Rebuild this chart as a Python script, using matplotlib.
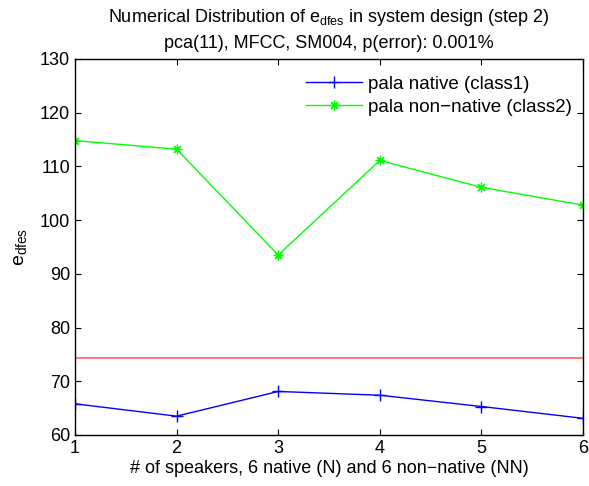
import numpy as np
import matplotlib
matplotlib.use("Agg")
import matplotlib.pyplot as plt

# --- data ---
speakers = [1, 2, 3, 4, 5, 6]
native = [65.8, 63.5, 68.1, 67.4, 65.3, 63.1]
non_native = [114.8, 113.2, 93.5, 111.1, 106.1, 102.8]
threshold = 74.4

plt.rcParams['font.family'] = ['Liberation Sans', 'DejaVu Sans']
plt.rcParams['mathtext.fontset'] = 'custom'
plt.rcParams['mathtext.rm'] = 'Liberation Sans'
plt.rcParams['mathtext.it'] = 'Liberation Sans'
plt.rcParams['font.size'] = 13

fig = plt.figure(figsize=(5.89, 4.86), dpi=100)
ax = fig.add_axes([0.1273, 0.105, 0.8625, 0.7737])

ax.plot(speakers, native, color='blue', marker='+', markersize=8, lw=1,
        label='pala native (class1)')
ax.plot(speakers, non_native, color='#00ff00', marker=(8, 2, 0), markersize=7,
        markeredgewidth=0.9, lw=1, label='pala non\u2212native (class2)')
ax.axhline(threshold, color='#ff6666', lw=1.2)

ax.set_xlim(1, 6)
ax.set_ylim(60, 130)
ax.set_xticks(speakers)
ax.set_yticks(np.arange(60, 131, 10))
ax.tick_params(direction='in', top=True, right=True, length=4, width=0.8,
               labelsize=13)
for s in ax.spines.values():
    s.set_linewidth(1)

ax.set_xlabel('# of speakers, 6 native (N) and 6 non\u2212native (NN)', labelpad=2)
ax.set_ylabel(r'e$_{\mathrm{dfes}}$', labelpad=8, fontsize=14)
ax.set_title('Numerical Distribution of e$_{\\mathrm{dfes}}$ in system design (step 2)\n'
             'pca(11), MFCC, SM004, p(error): 0.001%', fontsize=13, pad=8,
             linespacing=1.5)

leg = ax.legend(loc='upper right', frameon=False, borderaxespad=0.2,
                bbox_to_anchor=(1.0, 0.985),
                handlelength=3.0, handletextpad=0.3, labelspacing=0.3,
                fontsize=13.5)

fig.savefig('out.png', dpi=100)
